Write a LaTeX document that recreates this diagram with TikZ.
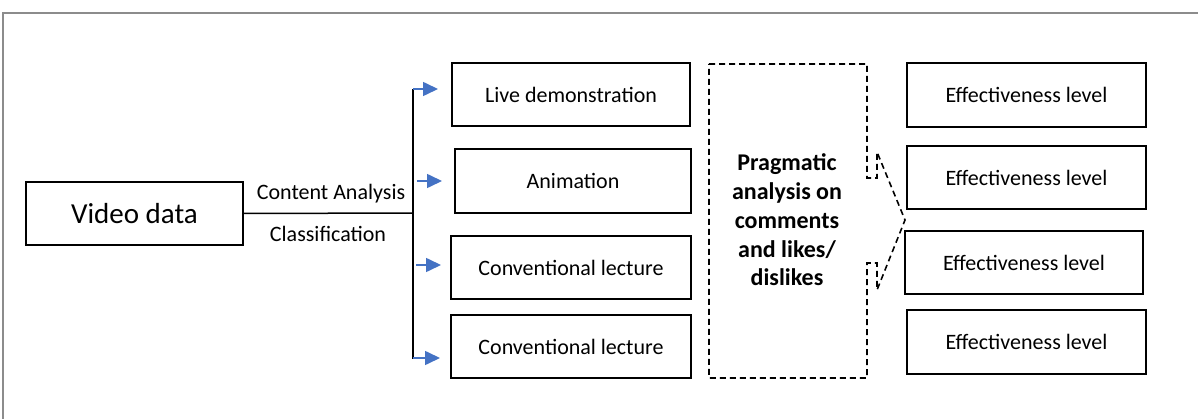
\documentclass[tikz,border=0pt]{standalone}
\usepackage{fontspec}
\setmainfont{Carlito}
\usetikzlibrary{arrows.meta}
\definecolor{arrblue}{HTML}{4472C4}
\definecolor{framegray}{HTML}{8C8C8C}
\tikzset{
  box/.style={draw=black, line width=2pt, inner sep=0pt, font=\fontsize{22}{26}\selectfont},
  conn/.style={draw=black, line width=1.5pt},
  arr/.style={draw=arrblue, line width=1.6pt, -{Triangle[length=15pt,width=14pt]}},
  dashline/.style={draw=black, line width=1.6pt, dash pattern=on 6pt off 4pt},
}
\begin{document}
\begin{tikzpicture}[x=1pt,y=-1pt]
\useasboundingbox (0,0) rectangle (1198,419);
% frame
\draw[framegray, line width=2pt] (3,419) -- (3,13) -- (1198,13);
% nodes
\node[box, minimum width=217pt, minimum height=63pt, font=\fontsize{29}{34}\selectfont] (vid) at (134.5,213.5) {Video data};
\node[box, minimum width=238pt, minimum height=63pt] (ld) at (571,94.5) {Live demonstration};
\node[box, minimum width=236pt, minimum height=64pt] (an) at (573,181) {Animation};
\node[box, minimum width=240pt, minimum height=63pt] (cl1) at (571,267.5) {Conventional lecture};
\node[box, minimum width=240pt, minimum height=63pt] (cl2) at (571,346.5) {Conventional lecture};
\node[box, minimum width=239pt, minimum height=64pt] (e1) at (1026.5,95) {Effectiveness level};
\node[box, minimum width=239pt, minimum height=63pt] (e2) at (1026.5,177.5) {Effectiveness level};
\node[box, minimum width=238pt, minimum height=63pt] (e3) at (1024,262.5) {Effectiveness level};
\node[box, minimum width=239pt, minimum height=64pt] (e4) at (1026.5,342) {Effectiveness level};
% labels
\node[font=\fontsize{22}{26}\selectfont, inner sep=0pt] (ca) at (331,194) {Content Analysis};
\node[font=\fontsize{22}{26}\selectfont, inner sep=0pt] (cf) at (328,234) {Classification};
% pragmatic callout
\node[align=center, font=\fontsize{24}{28.8}\selectfont\bfseries, inner sep=0pt] (prag) at (787,220)
  {Pragmatic\\analysis on\\comments\\and likes/\\dislikes};
\draw[dashline] (709,64) -- (867,64) -- (867,178) -- (877,178) -- (877,152) -- (905,220)
  -- (877,290) -- (877,263) -- (867,263) -- (867,378) -- (709,378) -- cycle;
% connectors
\coordinate (j) at (413,213);
\coordinate (jt) at (413,89);
\coordinate (jb) at (413,359);
\draw[conn] (vid.east) -- (j);
\draw[conn] (jt) -- (jb);
\draw[arr] (jt) -- (438,89);
\draw[arr] (417,181) -- (442,181);
\draw[arr] (416,265) -- (441,265);
\draw[arr] (413,358) -- (440,358);
\end{tikzpicture}
\end{document}
